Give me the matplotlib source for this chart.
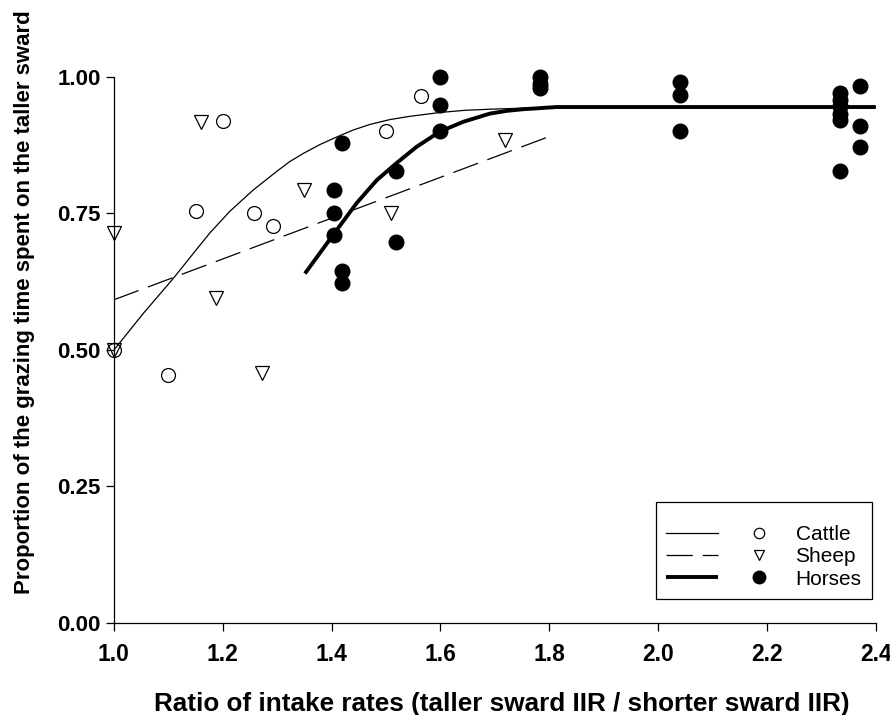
import matplotlib
matplotlib.use('Agg')
import matplotlib.pyplot as plt
from matplotlib.lines import Line2D
from matplotlib.legend_handler import HandlerTuple

plt.rcParams['font.family'] = ['Liberation Sans', 'DejaVu Sans']

# observed points
cattle_x = [1.00, 1.10, 1.15, 1.20, 1.257, 1.292, 1.50, 1.565]
cattle_y = [0.50, 0.455, 0.755, 0.919, 0.751, 0.727, 0.901, 0.966]

sheep_x = [1.00, 1.00, 1.16, 1.187, 1.272, 1.349, 1.51, 1.718]
sheep_y = [0.715, 0.50, 0.918, 0.595, 0.458, 0.793, 0.751, 0.885]

horse_x = [1.405, 1.405, 1.405, 1.419, 1.419, 1.419, 1.519, 1.519,
           1.599, 1.599, 1.599, 1.783, 1.783, 1.783, 2.041, 2.041, 2.041,
           2.334, 2.334, 2.334, 2.334, 2.334, 2.334, 2.371, 2.371, 2.371]
horse_y = [0.793, 0.750, 0.711, 0.879, 0.645, 0.623, 0.828, 0.697,
           1.000, 0.949, 0.902, 1.000, 0.988, 0.979, 0.991, 0.967, 0.902,
           0.970, 0.958, 0.946, 0.933, 0.922, 0.827, 0.983, 0.910, 0.872]

# fitted curves
cattle_fit_x = [1.00, 1.054, 1.109, 1.146, 1.176, 1.213, 1.256, 1.299, 1.323, 1.348,
                1.378, 1.409, 1.440, 1.470, 1.507, 1.544, 1.599, 1.645, 1.691,
                1.783, 1.875, 2.0, 2.4]
cattle_fit_y = [0.50, 0.567, 0.631, 0.677, 0.714, 0.754, 0.793, 0.827, 0.845, 0.860,
                0.876, 0.890, 0.903, 0.913, 0.922, 0.928, 0.935, 0.939, 0.941,
                0.944, 0.945, 0.945, 0.945]

sheep_fit_x = [1.00, 1.80]
sheep_fit_y = [0.592, 0.891]

horse_fit_x = [1.351, 1.403, 1.446, 1.483, 1.519, 1.556, 1.599, 1.642,
               1.691, 1.722, 1.752, 1.783, 1.813, 1.9, 2.4]
horse_fit_y = [0.640, 0.711, 0.769, 0.811, 0.842, 0.872, 0.900, 0.918,
               0.933, 0.938, 0.941, 0.943, 0.945, 0.945, 0.945]

xticks = [1.0, 1.2, 1.4, 1.6, 1.8, 2.0, 2.2, 2.4]
yticks = [0.0, 0.25, 0.5, 0.75, 1.0]

fig = plt.figure(figsize=(8.9, 7.15), dpi=100)
ax = fig.add_axes([0.128, 0.1287, 0.856, 0.7636])

l1, = ax.plot(cattle_fit_x, cattle_fit_y, color='black', lw=0.9)
l2, = ax.plot(sheep_fit_x, sheep_fit_y, color='black', lw=0.9, dashes=(21, 8))
l3, = ax.plot(horse_fit_x, horse_fit_y, color='black', lw=2.8, solid_capstyle='butt')

m1, = ax.plot(cattle_x, cattle_y, 'o', ms=10, mfc='none', mec='black', mew=0.9,
              ls='none', clip_on=False)
m2, = ax.plot(sheep_x, sheep_y, 'v', ms=10, mfc='none', mec='black', mew=0.9,
              ls='none', clip_on=False)
m3, = ax.plot(horse_x, horse_y, 'o', ms=10.5, color='black', ls='none', clip_on=False)

ax.set_xlim(1.0, 2.4)
ax.set_ylim(0, 1.0)
ax.set_xticks(xticks)
ax.set_xticklabels(['%.1f' % t for t in xticks])
ax.set_yticks(yticks)
ax.set_yticklabels(['%.2f' % t for t in yticks])

for s in ['top', 'right']:
    ax.spines[s].set_visible(False)
for s in ['left', 'bottom']:
    ax.spines[s].set_linewidth(0.9)

ax.tick_params(direction='out', length=5.5, width=0.9)
ax.tick_params(axis='y', labelsize=16, pad=4)
ax.tick_params(axis='x', labelsize=16.5, pad=9)
for lab in ax.get_xticklabels() + ax.get_yticklabels():
    lab.set_fontweight('bold')

ax.set_xlabel('Ratio of intake rates (taller sward IIR / shorter sward IIR)',
              fontsize=18.8, fontweight='bold')
ax.xaxis.set_label_coords(0.509, -0.148)
ax.xaxis.label.set_va('center')
ax.set_ylabel('Proportion of the grazing time spent on the taller sward',
              fontsize=16, fontweight='bold')
ax.yaxis.set_label_coords(-0.104, 0.588)

s1 = Line2D([], [], marker='o', ls='none', ms=7.5, mfc='none', mec='black', mew=0.9)
s2 = Line2D([], [], marker='v', ls='none', ms=7.5, mfc='none', mec='black', mew=0.9)
s3 = Line2D([], [], marker='o', ls='none', ms=9, color='black')

leg = ax.legend([(l1, s1), (l2, s2), (l3, s3)], ['Cattle', 'Sheep', 'Horses'],
                handler_map={tuple: HandlerTuple(ndivide=None, pad=0.75)},
                loc='lower right', bbox_to_anchor=(0.995, 0.044), borderaxespad=0,
                fontsize=15, handlelength=5.7, handletextpad=0.5, numpoints=1,
                labelspacing=0.15, borderpad=0.5, fancybox=False, framealpha=1,
                edgecolor='black', title=' ', title_fontsize=7)
leg.get_frame().set_linewidth(0.9)

fig.savefig('out.png', dpi=100)
